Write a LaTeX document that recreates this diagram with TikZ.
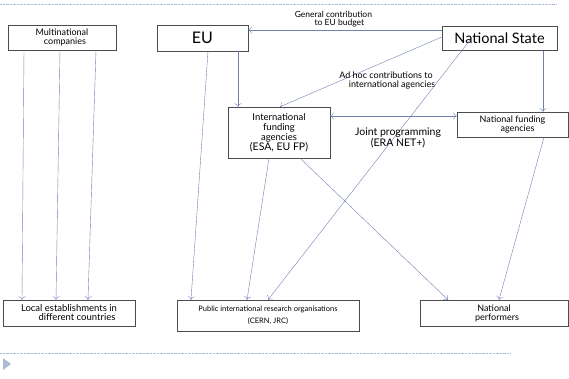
\documentclass[tikz,border=0pt]{standalone}
\usepackage{fontspec}
\setmainfont{Lato}
\usetikzlibrary{arrows.meta}
\tikzset{>={To[length=3.5pt,width=7pt]}}
\definecolor{linkblue}{RGB}{112,128,178}
\definecolor{rulegray}{RGB}{170,188,208}
\tikzset{box/.style={draw=black!70, rectangle, align=center, inner sep=1pt},
  link/.style={linkblue, ->},
  note/.style={text=black, align=center, font=\fontsize{8.5}{8.5}\selectfont}}

\begin{document}
\begin{tikzpicture}[x=1pt, y=-1pt]
    \useasboundingbox (0,0) rectangle (569,378);
    % frame of the slide
    \draw[rulegray, densely dotted] (0,4) -- (557,4);
    \draw[rulegray, densely dotted] (0,353) -- (510,353);
    \fill[rulegray] (3,358) -- (11,364) -- (3,370) -- cycle;
    % boxes
    \node[box, minimum width=108pt, minimum height=25pt, font=\fontsize{9}{9}\selectfont] (multi) at (62,37.5) {Multinational\\ \hspace{6pt}companies};
    \node[box, minimum width=91pt, minimum height=26pt, font=\fontsize{16}{16}\selectfont] (eu) at (202.5,38) {EU};
    \node[box, minimum width=115pt, minimum height=24pt, font=\fontsize{14.5}{14.5}\selectfont] (state) at (499.5,38.5) {National State};
    \node[box, minimum width=102pt, minimum height=51pt, font=\fontsize{9.5}{10}\selectfont] (intl) at (279,132.5) {International\\ funding\\ agencies\\ \fontsize{10.5}{11}\selectfont(ESA, EU FP)};
    \node[box, minimum width=111pt, minimum height=25pt, font=\fontsize{9}{9}\selectfont] (natfund) at (512.5,124.5) {National funding\\ \hspace{10pt}agencies};
    \node[box, minimum width=132pt, minimum height=26pt, font=\fontsize{9.5}{9}\selectfont] (local) at (69,313) {Local establishments in\\ \hspace{16pt}different countries};
    \node[box, minimum width=182pt, minimum height=31pt, font=\fontsize{7.5}{12}\selectfont] (pub) at (268,315.5) {Public international research organisations\\ (CERN, JRC)};
    \node[box, minimum width=148pt, minimum height=26pt, font=\fontsize{9}{9}\selectfont] (perf) at (494,313) {National\\ \hspace{6pt}performers};
    % flows
    \draw[link] (24,0 |- multi.south) -- (22,0 |- local.north);
    \draw[link] (60,0 |- multi.south) -- (56,0 |- local.north);
    \draw[link] (96,0 |- multi.south) -- (88,0 |- local.north);
    \draw[link] (208,0 |- eu.south) -- (191,0 |- pub.north);
    \draw[link] (238,0 |- eu.south) -- (238,0 |- intl.north);
    \draw[link] (state.west |- 0,30) -- (eu.east |- 0,30)
        node[pos=0.56, above=-1pt, note] (gen) {General contribution\\ \hspace{12pt}to EU budget};
    \draw[link] (state.west |- 0,37) -- (280,0 |- intl.north);
    \node[note, font=\fontsize{9}{9}\selectfont] (adhoc) at (386,81) {Ad hoc contributions to\\ \hspace{12pt}international agencies};
    \draw[link] (470,40) -- (268,0 |- pub.north);
    \draw[link] (543,0 |- state.south) -- (543,0 |- natfund.north);
    \draw[link, <->] (intl.east |- 0,116) -- (natfund.west |- 0,116);
    \node[font=\fontsize{10.5}{10}\selectfont, align=center] (joint) at (398,138) {Joint programming\\ (ERA NET+)};
    \draw[link] (269,0 |- intl.south) -- (247,0 |- pub.north);
    \draw[link] (300,0 |- intl.south) -- (448,0 |- perf.north);
    \draw[link] (544,0 |- natfund.south) -- (499,0 |- perf.north);
\end{tikzpicture}
\end{document}
